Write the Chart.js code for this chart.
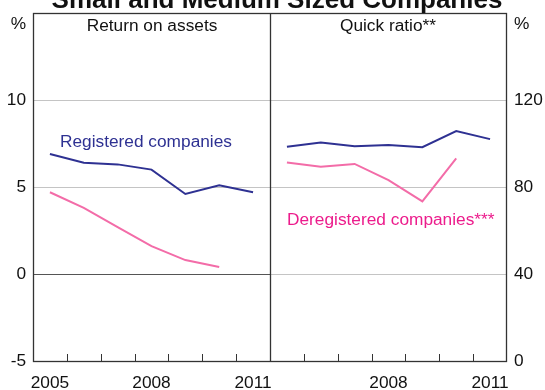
<!DOCTYPE html>
<html>
<head>
<meta charset="utf-8">
<script src="https://cdn.jsdelivr.net/npm/chart.js@4/dist/chart.umd.min.js"></script>
<style>
  html, body { margin: 0; padding: 0; background: #fff; }
  canvas { display: block; }
</style>
</head>
<body>
<canvas id="c" width="545" height="390"></canvas>
<script>
// Years shown in each panel
const years = ['2005', '2006', '2007', '2008', '2009', '2010', '2011'];

// Return on assets (%)
const roaRegistered   = [6.9, 6.4, 6.3, 6.0, 4.6, 5.1, 4.7];
const roaDeregistered = [4.7, 3.8, 2.7, 1.6, 0.8, 0.4, null];

// Quick ratio (%)
const quickRegistered   = [98.5, 100.5, 98.7, 99.3, 98.3, 105.7, 102.0];
const quickDeregistered = [91.3, 89.3, 90.6, 83.2, 73.4, 93.2, null];

// Tick labels
const leftTicks  = [-5, 0, 5, 10];
const rightTicks = [0, 40, 80, 120];

const NAVY = '#2e3192';
const PINK = '#f36ca8';
const MAGENTA = '#ec1c8c';
const FONT = '"Liberation Sans", Arial, sans-serif';
const FS = 17.3;

// Both panels share one category axis: left panel first, right panel second
const labels = years.concat(years);
const n = years.length;
const padLeft  = arr => arr.concat(new Array(n).fill(null));
const padRight = arr => new Array(n).fill(null).concat(arr);
const visibleLabelIdx = { 0: '2005', 3: '2008', 6: '2011', 10: '2008', 13: '2011' };

const frame = {
  id: 'frame',
  beforeDatasetsDraw(chart) {
    const { ctx, chartArea: a, scales: { x, y } } = chart;
    ctx.save();
    // dark zero line in the return-on-assets panel
    const mid = (x.getPixelForValue(n - 1) + x.getPixelForValue(n)) / 2;
    const y0 = Math.round(y.getPixelForValue(0)) + 0.5;
    ctx.strokeStyle = '#555';
    ctx.lineWidth = 1.2;
    ctx.beginPath();
    ctx.moveTo(a.left, y0);
    ctx.lineTo(mid, y0);
    ctx.stroke();
    ctx.restore();
  },
  afterDraw(chart) {
    const { ctx, chartArea: a, scales: { x } } = chart;
    ctx.save();
    ctx.strokeStyle = '#333';
    ctx.lineWidth = 1.3;
    // outer box
    ctx.strokeRect(a.left + 0.5, a.top + 0.5, a.right - a.left - 1, a.bottom - a.top);
    // panel divider
    const mid = Math.round((x.getPixelForValue(n - 1) + x.getPixelForValue(n)) / 2) + 0.5;
    ctx.beginPath();
    ctx.moveTo(mid, a.top);
    ctx.lineTo(mid, a.bottom);
    ctx.stroke();
    // inward year ticks at category boundaries
    ctx.lineWidth = 1;
    for (let i = 0; i < labels.length - 1; i++) {
      const bx = Math.round((x.getPixelForValue(i) + x.getPixelForValue(i + 1)) / 2) + 0.5;
      ctx.beginPath();
      ctx.moveTo(bx, a.bottom);
      ctx.lineTo(bx, a.bottom - 7);
      ctx.stroke();
    }
    // texts
    ctx.fillStyle = '#111';
    ctx.textBaseline = 'alphabetic';
    ctx.font = 'bold 26px ' + FONT;
    ctx.textAlign = 'center';
    ctx.fillText('Small and Medium Sized Companies', 277, 8);

    ctx.font = FS + 'px ' + FONT;
    ctx.fillText('Return on assets', 152, 31);
    ctx.fillText('Quick ratio**', 388, 31);
    ctx.textAlign = 'right';
    ctx.fillText('%', 26, 29);
    ctx.textAlign = 'left';
    ctx.fillText('%', 514, 29);

    ctx.fillStyle = NAVY;
    ctx.fillText('Registered companies', 60, 147);
    ctx.fillStyle = MAGENTA;
    ctx.fillText('Deregistered companies***', 287, 225);
    ctx.restore();
  }
};

new Chart(document.getElementById('c'), {
  type: 'line',
  data: {
    labels,
    datasets: [
      { data: padLeft(roaRegistered), yAxisID: 'y', borderColor: NAVY, borderWidth: 2 },
      { data: padLeft(roaDeregistered), yAxisID: 'y', borderColor: PINK, borderWidth: 2 },
      { data: padRight(quickRegistered), yAxisID: 'y2', borderColor: NAVY, borderWidth: 2 },
      { data: padRight(quickDeregistered), yAxisID: 'y2', borderColor: PINK, borderWidth: 2 }
    ]
  },
  options: {
    responsive: false,
    animation: false,
    devicePixelRatio: 1,
    layout: { padding: { top: 13, left: 0, right: 0, bottom: 0 } },
    elements: {
      point: { radius: 0, hoverRadius: 0 },
      line: { tension: 0, fill: false, borderJoinStyle: 'miter' }
    },
    spanGaps: false,
    plugins: { legend: { display: false }, tooltip: { enabled: false }, title: { display: false } },
    scales: {
      x: {
        type: 'category',
        offset: true,
        grid: { display: false, drawTicks: false, offset: true },
        border: { display: false },
        afterFit(s) { s.height = 29; s.paddingLeft = 0; s.paddingRight = 0; },
        ticks: {
          autoSkip: false,
          maxRotation: 0,
          padding: 12,
          color: '#111',
          font: { family: FONT, size: FS },
          callback: (v, i) => visibleLabelIdx[i] || ''
        }
      },
      y: {
        position: 'left',
        min: -5, max: 15,
        afterFit(s) { s.width = 33; s.paddingTop = 0; s.paddingBottom = 0; },
        afterBuildTicks(s) { s.ticks = leftTicks.concat([15]).map(v => ({ value: v })); },
        grid: {
          drawTicks: false,
          color: ctx => (ctx.tick && (ctx.tick.value === 5 || ctx.tick.value === 10 || ctx.tick.value === 0)) ? '#c4c4c4' : 'rgba(0,0,0,0)',
          lineWidth: 1
        },
        border: { display: false },
        ticks: {
          padding: 7,
          color: '#111',
          font: { family: FONT, size: FS },
          callback: v => leftTicks.includes(v) ? String(v) : ''
        }
      },
      y2: {
        position: 'right',
        min: 0, max: 160,
        afterFit(s) { s.width = 38; s.paddingTop = 0; s.paddingBottom = 0; },
        afterBuildTicks(s) { s.ticks = rightTicks.concat([160]).map(v => ({ value: v })); },
        grid: { display: false, drawTicks: false },
        border: { display: false },
        ticks: {
          padding: 7,
          color: '#111',
          font: { family: FONT, size: FS },
          callback: v => rightTicks.includes(v) ? String(v) : ''
        }
      }
    }
  },
  plugins: [frame]
});
</script>
</body>
</html>
